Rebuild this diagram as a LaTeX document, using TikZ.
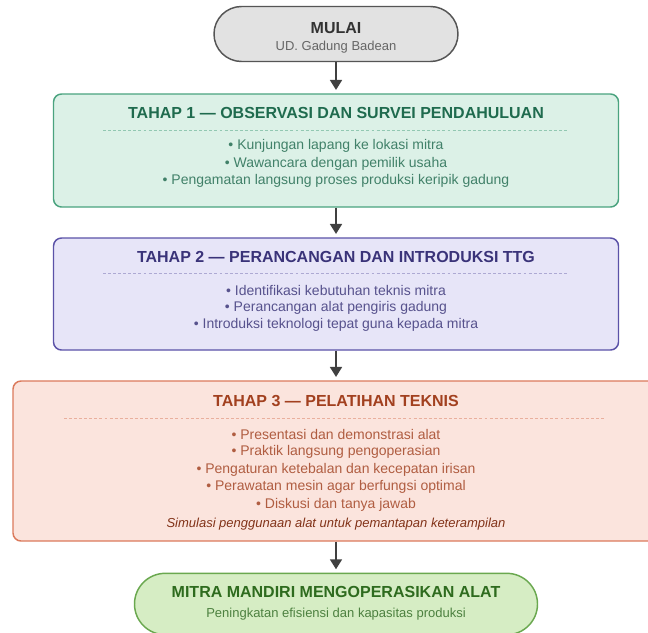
\documentclass[tikz,border=0pt]{standalone}
\usepackage{fontspec}
\setmainfont{Liberation Sans}
\usetikzlibrary{arrows.meta,shapes.misc}

\definecolor{startfill}{HTML}{E2E2E2}
\definecolor{startline}{HTML}{555555}
\definecolor{onefill}{HTML}{DCF1E7}
\definecolor{oneline}{HTML}{4AA37F}
\definecolor{onetext}{HTML}{1F6B4E}
\definecolor{twofill}{HTML}{E7E5F8}
\definecolor{twoline}{HTML}{5B52A8}
\definecolor{twotext}{HTML}{3A3379}
\definecolor{threefill}{HTML}{FBE4DD}
\definecolor{threeline}{HTML}{DB7A5C}
\definecolor{threetext}{HTML}{A2401F}
\definecolor{endfill}{HTML}{D6EDC4}
\definecolor{endline}{HTML}{6AA84F}
\definecolor{endtext}{HTML}{2E6B1E}

\begin{document}
\begin{tikzpicture}[
    x=0.75pt, y=-0.75pt,
    pill/.style={rounded rectangle, draw, line width=1.1pt, inner sep=0pt},
    phase/.style={draw, rounded corners=6pt, line width=1.1pt, inner sep=0pt, minimum width=423.75pt},
    title/.style={font=\bfseries\fontsize{12}{14}\selectfont},
    item/.style={font=\fontsize{10.5}{13}\selectfont},
    note/.style={font=\fontsize{9.75}{12}\selectfont},
    sep/.style={dashed, dash pattern=on 2.2pt off 1.6pt, line width=0.5pt},
    flow/.style={-{Triangle[length=7.5pt,width=9pt]}, line width=1.3pt, draw=black!75, shorten >=2.5pt}
]
\useasboundingbox (0,0) rectangle (648,632);
\fill[white] (0,0) rectangle (648,632);
\clip (0,0) rectangle (648,632);

% Start
\node[pill, fill=startfill, draw=startline, minimum width=183pt, minimum height=41.25pt] (start) at (336,34) {};
\node[title, text=black!80] (starttitle) at (336,28) {MULAI};
\node[note, text=black!60] (startsub) at (336,47) {UD. Gadung Badean};

% Tahap 1
\node[phase, fill=onefill, draw=oneline, minimum height=84.75pt] (s1) at (336,150.5) {};
\node[title, text=onetext] (s1title) at (336,113) {TAHAP 1 — OBSERVASI DAN SURVEI PENDAHULUAN};
\draw[sep, draw=oneline!60] (103,130) -- (567,130);
\node[item, text=onetext!85] (s1a) at (336,146) {• Kunjungan lapang ke lokasi mitra};
\node[item, text=onetext!85] (s1b) at (336,163.5) {• Wawancara dengan pemilik usaha};
\node[item, text=onetext!85] (s1c) at (336,181) {• Pengamatan langsung proses produksi keripik gadung};

% Tahap 2
\node[phase, fill=twofill, draw=twoline, minimum height=84pt] (s2) at (336,294) {};
\node[title, text=twotext] (s2title) at (336,257) {TAHAP 2 — PERANCANGAN DAN INTRODUKSI TTG};
\draw[sep, draw=twoline!50] (103,273) -- (567,273);
\node[item, text=twotext!85] (s2a) at (336,290) {• Identifikasi kebutuhan teknis mitra};
\node[item, text=twotext!85] (s2b) at (336,307.5) {• Perancangan alat pengiris gadung};
\node[item, text=twotext!85] (s2c) at (336,325) {• Introduksi teknologi tepat guna kepada mitra};

% Tahap 3
\node[phase, fill=threefill, draw=threeline, minimum width=484.5pt, minimum height=120pt] (s3) at (336,461) {};
\node[title, text=threetext] (s3title) at (336,401) {TAHAP 3 — PELATIHAN TEKNIS};
\draw[sep, draw=threeline!60] (64,418) -- (606,418);
\node[item, text=threetext!85] (s3a) at (336,434.5) {• Presentasi dan demonstrasi alat};
\node[item, text=threetext!85] (s3b) at (336,452) {• Praktik langsung pengoperasian};
\node[item, text=threetext!85] (s3c) at (336,469.5) {• Pengaturan ketebalan dan kecepatan irisan};
\node[item, text=threetext!85] (s3d) at (336,487) {• Perawatan mesin agar berfungsi optimal};
\node[item, text=threetext!85] (s3e) at (336,504.5) {• Diskusi dan tanya jawab};
\node[note, text=threetext!80!black, font=\itshape\fontsize{9.75}{12}\selectfont] (s3note) at (336,524) {Simulasi penggunaan alat untuk pemantapan keterampilan};

% Selesai
\node[pill, fill=endfill, draw=endline, minimum width=302.25pt, minimum height=46pt] (end) at (336,604) {};
\node[title, text=endtext] (endtitle) at (336,592) {MITRA MANDIRI MENGOPERASIKAN ALAT};
\node[note, text=endtext!85] (endsub) at (336,614) {Peningkatan efisiensi dan kapasitas produksi};

% Arrows
\draw[flow] (start) -- (s1);
\draw[flow] (s1) -- (s2);
\draw[flow] (s2) -- (s3);
\draw[flow] (s3) -- (end);
\end{tikzpicture}
\end{document}
